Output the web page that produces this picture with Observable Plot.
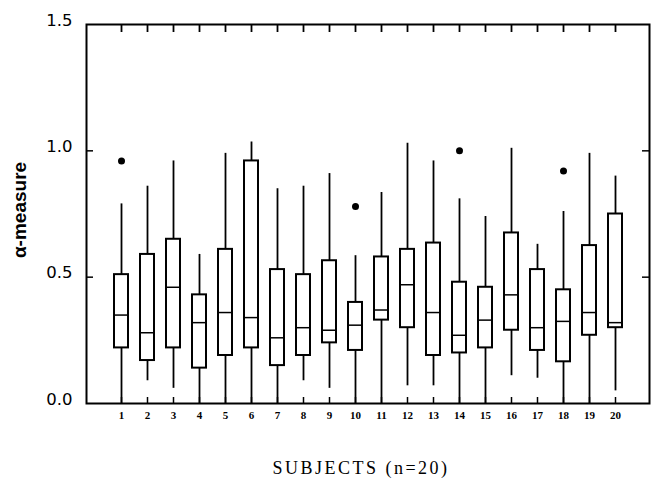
<!DOCTYPE html>
<html>
<head>
<meta charset="utf-8">
<script src="https://cdn.jsdelivr.net/npm/d3@7"></script>
<script src="https://cdn.jsdelivr.net/npm/@observablehq/plot@0.6"></script>
<style>
  html, body { margin: 0; padding: 0; background: white; }
</style>
</head>
<body>
<div id="chart"></div>
<script>
// ---- data ----
const subjects = [1, 2, 3, 4, 5, 6, 7, 8, 9, 10, 11, 12, 13, 14, 15, 16, 17, 18, 19, 20];
const whiskerLow  = [0.00, 0.09, 0.06, 0.00, 0.00, 0.00, 0.00, 0.09, 0.06, 0.00, 0.00, 0.07, 0.07, 0.00, 0.00, 0.11, 0.10, 0.00, 0.00, 0.05];
const quartile1   = [0.22, 0.17, 0.22, 0.14, 0.19, 0.22, 0.15, 0.19, 0.24, 0.21, 0.33, 0.30, 0.19, 0.20, 0.22, 0.29, 0.21, 0.165, 0.27, 0.30];
const medians     = [0.35, 0.28, 0.46, 0.32, 0.36, 0.34, 0.26, 0.30, 0.29, 0.31, 0.37, 0.47, 0.36, 0.27, 0.33, 0.43, 0.30, 0.325, 0.36, 0.32];
const quartile3   = [0.51, 0.59, 0.65, 0.43, 0.61, 0.96, 0.53, 0.51, 0.565, 0.40, 0.58, 0.61, 0.635, 0.48, 0.46, 0.675, 0.53, 0.45, 0.625, 0.75];
const whiskerHigh = [0.79, 0.86, 0.96, 0.59, 0.99, 1.035, 0.85, 0.86, 0.91, 0.585, 0.835, 1.03, 0.96, 0.81, 0.74, 1.01, 0.63, 0.76, 0.99, 0.90];
const outlierSubjects = [1, 10, 14, 18];
const outlierValues   = [0.96, 0.78, 1.00, 0.92];
const yTicks = [0, 0.5, 1.0, 1.5];
const yInnerTicks = [0.5, 1.0];
const xTitle = "SUBJECTS (n=20)";
const yTitle = "α-measure";

// ---- tables built from the arrays ----
const boxes = subjects.map((s, i) => ({
  s, lo: whiskerLow[i], q1: quartile1[i], med: medians[i], q3: quartile3[i], hi: whiskerHigh[i]
}));
const outliers = outlierSubjects.map((s, i) => ({s, v: outlierValues[i]}));

const serif = "'Liberation Serif', 'DejaVu Serif', serif";
const sans = "'Liberation Sans', Arial, sans-serif";

const W = 654, H = 478, mT = 24, mR = 5, mB = 75, mL = 86;
const frameW = W - mL - mR, frameH = H - mT - mB;

const chart = Plot.plot({
  width: W,
  height: H,
  marginTop: mT,
  marginRight: mR,
  marginBottom: mB,
  marginLeft: mL,
  style: {background: "white", color: "black", overflow: "visible"},
  x: {type: "band", domain: subjects, paddingInner: 0.48, paddingOuter: 0.745, axis: null},
  y: {domain: [0, 1.5], axis: null},
  marks: [
    Plot.ruleX(boxes, {x: "s", y1: "lo", y2: "hi", stroke: "black", strokeWidth: 1.8}),
    Plot.barY(boxes, {x: "s", y1: "q1", y2: "q3", fill: "white", stroke: "black", strokeWidth: 2}),
    Plot.tickY(boxes, {x: "s", y: "med", stroke: "black", strokeWidth: 1.5}),
    Plot.dot(outliers, {x: "s", y: "v", r: 3.5, fill: "black", stroke: "none"}),
    // inward ticks on the frame
    Plot.ruleX(subjects, {x: d => d, insetBottom: frameH - 8, stroke: "black", strokeWidth: 1.8}),
    Plot.ruleX(subjects, {x: d => d, insetTop: frameH - 6, stroke: "black", strokeWidth: 1.5}),
    Plot.ruleY(yInnerTicks, {y: d => d, insetRight: frameW - 7, stroke: "black", strokeWidth: 1.5}),
    Plot.ruleY(yInnerTicks, {y: d => d, insetLeft: frameW - 7, stroke: "black", strokeWidth: 1.5}),
    Plot.frame({stroke: "black", strokeWidth: 2}),
    // tick labels
    Plot.text(subjects, {x: d => d, text: d => String(d), frameAnchor: "bottom", dy: 15,
      fontSize: 11, fontWeight: "bold", fontFamily: serif}),
    Plot.text(yTicks, {y: d => d, text: d => d3.format(".1f")(d), frameAnchor: "left", dx: -14, dy: -4,
      textAnchor: "end", fontSize: 16.5, fontFamily: "'DejaVu Sans', sans-serif"}),
    // titles
    Plot.text([xTitle], {frameAnchor: "bottom", dy: 70, dx: -7,
      fontSize: 18, fontFamily: serif}),
    Plot.text([yTitle], {frameAnchor: "left", dx: -67, dy: -4, rotate: -90, textAnchor: "middle",
      fontSize: 19, fontWeight: "bold", fontFamily: sans})
  ]
});
d3.select(chart).selectAll("text").filter(function () { return this.textContent === xTitle; })
  .style("letter-spacing", "2.5px");
document.getElementById("chart").appendChild(chart);
</script>
</body>
</html>
